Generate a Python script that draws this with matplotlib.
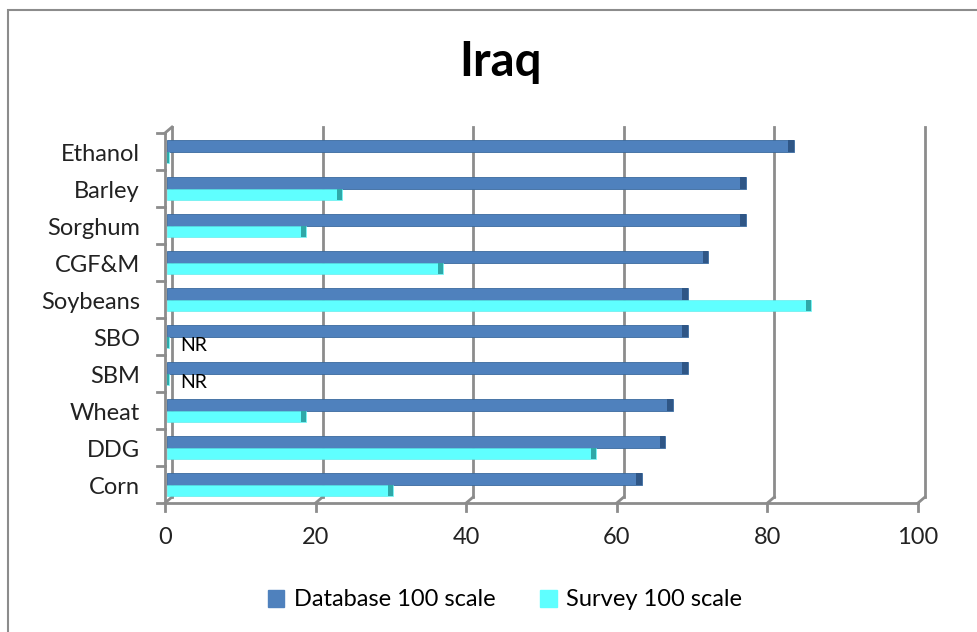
import matplotlib.pyplot as plt
import matplotlib.transforms as mtransforms
from matplotlib.patches import Rectangle, Patch
import numpy as np

plt.rcParams['font.family'] = ['Lato', 'DejaVu Sans']

# Iraq: database vs survey scores (100 scale), bottom to top
categories = ['Corn', 'DDG', 'Wheat', 'SBM', 'SBO', 'Soybeans', 'CGF&M', 'Sorghum', 'Barley', 'Ethanol']
database = [63.0, 66.1, 67.1, 69.1, 69.1, 69.1, 71.8, 76.8, 76.8, 83.2]
survey = [30.0, 57.0, 18.4, 0.2, 0.2, 85.5, 36.6, 18.4, 23.2, 0.2]
not_reported = ['SBM', 'SBO']
xticks = [0, 20, 40, 60, 80, 100]

c_db = '#4F81BD'
c_db_dark = '#2F5686'
c_sv = '#5FFFFF'
c_sv_dark = '#2FA8A8'
grid_c = '#8C8C8C'

fig = plt.figure(figsize=(9.77, 6.32), dpi=100)
fig.patches.append(Rectangle((8 / 977, -0.05), 1.1, 1 - 10 / 632 + 0.05, transform=fig.transFigure,
                             fill=False, edgecolor='#8C8C8C', linewidth=1.5))

ax = fig.add_axes([165 / 977, 1 - 503 / 632, 753 / 977, 370 / 632])
ax.set_xlim(0, 100)
ax.set_ylim(-0.5, len(categories) - 0.5)
for s in ax.spines.values():
    s.set_visible(False)
ax.set_xticks([])
ax.set_yticks([])

# back wall offset for the 3D look
back = mtransforms.offset_copy(ax.transData, fig=fig, x=7, y=6, units='dots')
top = len(categories) - 0.5
for x in xticks:
    ax.plot([x, x], [-0.5, top], transform=back, color=grid_c, lw=2, zorder=1, clip_on=False)
    # diagonal from floor back edge to front edge
    p0 = back.transform((x, -0.5))
    p1 = ax.transData.transform((x, -0.5))
    ax.plot([p0[0], p1[0]], [p0[1], p1[1]], transform=None, color=grid_c, lw=2, zorder=1, clip_on=False)

# floor front edge and left wall
ax.plot([0, 100], [-0.5, -0.5], color=grid_c, lw=2, zorder=1, clip_on=False)
ax.plot([0, 0], [-0.5, top], color=grid_c, lw=2, zorder=1, clip_on=False)
p0 = back.transform((0, top))
p1 = ax.transData.transform((0, top))
ax.plot([p1[0], p0[0]], [p1[1], p0[1]], transform=None, color=grid_c, lw=2, zorder=1, clip_on=False)

# category boundary ticks on the left wall
for b in np.arange(-0.5, len(categories), 1.0):
    p0 = ax.transData.transform((0, b))
    ax.plot([p0[0] - 8, p0[0]], [p0[1], p0[1]], transform=None, color=grid_c, lw=2, zorder=1, clip_on=False)

# value ticks below the floor
for x in xticks:
    p0 = ax.transData.transform((x, -0.5))
    ax.plot([p0[0], p0[0]], [p0[1], p0[1] - 8], transform=None, color=grid_c, lw=2, zorder=1, clip_on=False)
    ax.text(x, -0.5, str(x), transform=mtransforms.offset_copy(ax.transData, fig=fig, x=0, y=-34, units='dots'),
            ha='center', va='center', fontsize=17, color='#222222')

y = np.arange(len(categories))
h = 0.32
cap = 0.7
ax.barh(y + h / 2, database, height=h, left=0.3, color=c_db, edgecolor='#3A6A9E', linewidth=0.6, zorder=3)
ax.barh(y - h / 2, survey, height=h, left=0.3, color=c_sv, edgecolor='#55E8E8', linewidth=0.4, zorder=3)
# darker end caps
ax.barh(y + h / 2, [cap] * len(y), height=h, left=np.array(database) + 0.3 - cap, color=c_db_dark, linewidth=0, zorder=4)
sv_cap = np.minimum(cap, np.array(survey))
ax.barh(y - h / 2, sv_cap, height=h, left=np.array(survey) + 0.3 - sv_cap, color=c_sv_dark, linewidth=0, zorder=4)

for i, name in enumerate(categories):
    ax.text(0, i, name, transform=mtransforms.offset_copy(ax.transData, fig=fig, x=-25, y=-3, units='dots'),
            ha='right', va='center', fontsize=17, color='#222222')
    if name in not_reported:
        ax.text(2, i - h / 2 - 0.08, 'NR', ha='left', va='center', fontsize=14, color='black', zorder=5)

fig.text(0.512, 1 - 62 / 632, 'Iraq', ha='center', va='center', fontsize=34, fontweight='bold', color='black')

handles = [Patch(facecolor=c_db, edgecolor=c_db), Patch(facecolor=c_sv, edgecolor=c_sv)]
fig.legend(handles, ['Database 100 scale', 'Survey 100 scale'], loc='center', bbox_to_anchor=(0.517, 1 - 600 / 632),
           ncol=2, frameon=False, fontsize=17, handlelength=0.7, handleheight=0.7, handletextpad=0.4,
           columnspacing=1.9)

fig.savefig('out.png', dpi=100)
